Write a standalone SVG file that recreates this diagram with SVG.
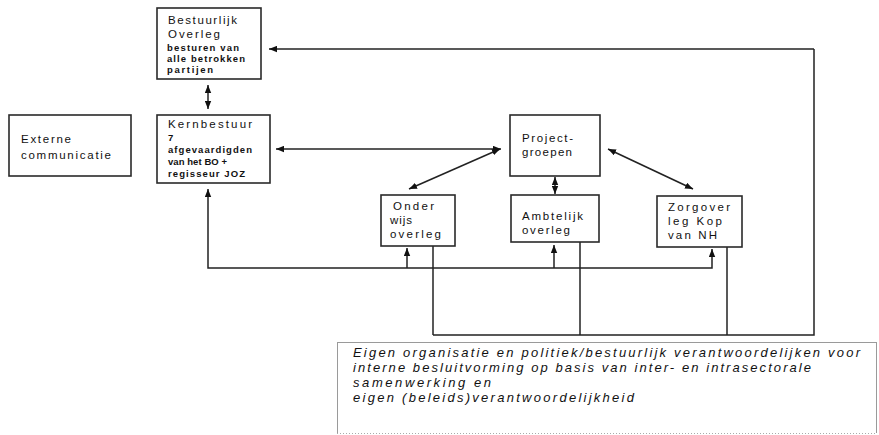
<svg xmlns="http://www.w3.org/2000/svg" width="879" height="435" viewBox="0 0 879 435">
<style>
.box{fill:#fff;stroke:#2a2a2a;stroke-width:1.6}
.t{font-family:"Liberation Sans",Arial,sans-serif;fill:#111;font-size:11.5px}
.s{font-family:"Liberation Sans",Arial,sans-serif;fill:#111;font-size:9.5px;font-weight:bold}
.c{stroke:#222;stroke-width:1.5;fill:none}
.note{font-family:"Liberation Sans",Arial,sans-serif;fill:#111;font-size:13px;font-style:italic}
</style>
<defs>
<marker id="ah" viewBox="0 0 10 8" refX="10" refY="4" markerWidth="8" markerHeight="7" markerUnits="userSpaceOnUse" orient="auto-start-reverse">
<path d="M0,0 L10,4 L0,8 Z" fill="#111"/>
</marker>
</defs>
<rect width="879" height="435" fill="#fff"/>

<g id="connectors">
<line class="c" x1="208" y1="85" x2="208" y2="109" marker-start="url(#ah)" marker-end="url(#ah)"/>
<polyline class="c" points="814,49 814,335 433,335"/>
<line class="c" x1="814" y1="49" x2="269" y2="49" marker-end="url(#ah)"/>
<line class="c" x1="276" y1="149" x2="501" y2="149" marker-start="url(#ah)" marker-end="url(#ah)"/>
<line class="c" x1="500" y1="149" x2="409" y2="189" marker-start="url(#ah)" marker-end="url(#ah)"/>
<line class="c" x1="608" y1="149" x2="693" y2="189" marker-start="url(#ah)" marker-end="url(#ah)"/>
<line class="c" x1="555" y1="177" x2="555" y2="194" marker-start="url(#ah)" marker-end="url(#ah)"/>
<polyline class="c" points="208,189 208,268 712,268 712,249" marker-start="url(#ah)" marker-end="url(#ah)"/>
<line class="c" x1="407" y1="268" x2="407" y2="248" marker-end="url(#ah)"/>
<line class="c" x1="554" y1="268" x2="554" y2="245" marker-end="url(#ah)"/>
<line class="c" x1="433" y1="246" x2="433" y2="335"/>
<line class="c" x1="580" y1="242" x2="580" y2="335"/>
<line class="c" x1="727" y1="247" x2="727" y2="335"/>
</g>

<g id="bestuurlijk-overleg">
<rect class="box" x="157" y="8" width="104" height="71"/>
<text class="t" x="168" y="24" textLength="69" lengthAdjust="spacing">Bestuurlijk</text>
<text class="t" x="168" y="38" textLength="52" lengthAdjust="spacing">Overleg</text>
<text class="s" x="167" y="51" textLength="72" lengthAdjust="spacing">besturen van</text>
<text class="s" x="167" y="62" textLength="78" lengthAdjust="spacing">alle betrokken</text>
<text class="s" x="167" y="73" textLength="46" lengthAdjust="spacing">partijen</text>
</g>

<g id="kernbestuur">
<rect class="box" x="157" y="115" width="113" height="68"/>
<text class="t" x="168" y="128" textLength="84" lengthAdjust="spacing">Kernbestuur</text>
<text class="s" x="168" y="141">7</text>
<text class="s" x="168" y="153" textLength="84" lengthAdjust="spacing">afgevaardigden</text>
<text class="s" x="168" y="165" textLength="59" lengthAdjust="spacing">van het BO +</text>
<text class="s" x="168" y="177" textLength="77" lengthAdjust="spacing">regisseur JOZ</text>
</g>

<g id="externe-communicatie">
<rect class="box" x="9" y="115" width="122" height="61"/>
<text class="t" x="21" y="143" textLength="50" lengthAdjust="spacing">Externe</text>
<text class="t" x="21" y="159" textLength="90" lengthAdjust="spacing">communicatie</text>
</g>

<g id="projectgroepen">
<rect class="box" x="510" y="115" width="90" height="61"/>
<text class="t" x="522" y="142" textLength="51" lengthAdjust="spacing">Project-</text>
<text class="t" x="522" y="156" textLength="50" lengthAdjust="spacing">groepen</text>
</g>

<g id="onderwijs-overleg">
<rect class="box" x="381" y="195" width="74" height="51"/>
<text class="t" x="393" y="210" textLength="41" lengthAdjust="spacing">Onder</text>
<text class="t" x="390" y="224" textLength="22" lengthAdjust="spacing">wijs</text>
<text class="t" x="390" y="238" textLength="51" lengthAdjust="spacing">overleg</text>
</g>

<g id="ambtelijk-overleg">
<rect class="box" x="511" y="195" width="88" height="47"/>
<text class="t" x="522" y="220" textLength="61" lengthAdjust="spacing">Ambtelijk</text>
<text class="t" x="522" y="234" textLength="48" lengthAdjust="spacing">overleg</text>
</g>

<g id="zorgoverleg">
<rect class="box" x="657" y="196" width="85" height="51"/>
<text class="t" x="668" y="211" textLength="62" lengthAdjust="spacing">Zorgover</text>
<text class="t" x="668" y="225" textLength="54" lengthAdjust="spacing">leg Kop</text>
<text class="t" x="668" y="239" textLength="49" lengthAdjust="spacing">van NH</text>
</g>

<g id="eigen-organisatie">
<rect x="337.5" y="342.5" width="539" height="91" fill="#fff" stroke="#9a9a9a" stroke-width="1"/>
<line x1="337" y1="433.5" x2="877" y2="433.5" stroke="#fff" stroke-width="1.2"/>
<line x1="337" y1="433.5" x2="877" y2="433.5" stroke="#aaa" stroke-width="1" stroke-dasharray="1,2"/>
<text class="note" x="353" y="357" textLength="507" lengthAdjust="spacing">Eigen organisatie en politiek/bestuurlijk verantwoordelijken voor</text>
<text class="note" x="353" y="372" textLength="458" lengthAdjust="spacing">interne besluitvorming op basis van inter- en intrasectorale</text>
<text class="note" x="353" y="387" textLength="138" lengthAdjust="spacing">samenwerking en</text>
<text class="note" x="353" y="402" textLength="281" lengthAdjust="spacing">eigen (beleids)verantwoordelijkheid</text>
</g>
</svg>
